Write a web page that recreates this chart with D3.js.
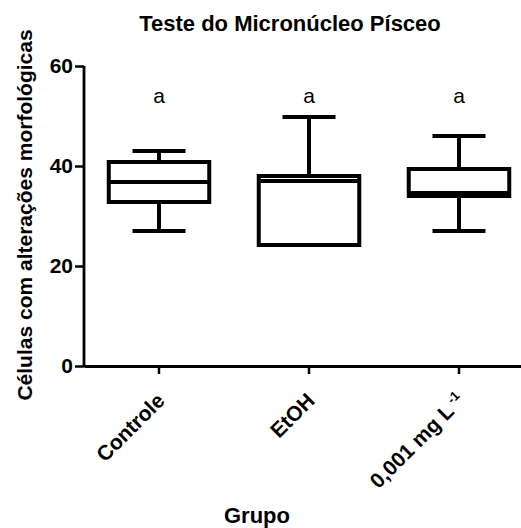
<!DOCTYPE html>
<html>
<head>
<meta charset="utf-8">
<script src="https://cdn.jsdelivr.net/npm/d3@7"></script>
<style>
  body { margin: 0; background: #fff; }
  text { font-family: "Liberation Sans", Arial, sans-serif; }
</style>
</head>
<body>
<div id="chart"></div>
<script>
// data
const groups = ["Controle", "EtOH", "0,001 mg L-1"];
const whiskerLow = [27, 24.2, 27];
const q1 = [32.8, 24.2, 34];
const median = [36.8, 37, 34.6];
const q3 = [40.8, 38, 39.4];
const whiskerHigh = [43, 49.8, 46];
const letters = ["a", "a", "a"];
const yTicks = [0, 20, 40, 60];

const width = 521, height = 528;

const svg = d3.select("#chart").append("svg")
    .attr("width", width)
    .attr("height", height);

const y = d3.scaleLinear().domain([0, 60]).range([366, 66]);
const x = d3.scaleBand().domain(groups).range([84, 534]).paddingInner(0.33).paddingOuter(0.165);

// title
svg.append("text")
    .attr("x", 290).attr("y", 31)
    .attr("text-anchor", "middle")
    .style("font-weight", "bold").style("font-size", "22px")
    .text("Teste do Micronúcleo Písceo");

// y axis
const yAxis = svg.append("g")
    .attr("transform", "translate(84,0)")
    .call(d3.axisLeft(y).tickValues(yTicks).tickSize(9).tickPadding(2));
yAxis.select(".domain").attr("stroke-width", 2.8).attr("d", "M0,367V66");
yAxis.selectAll(".tick line").attr("stroke-width", 2.5);
yAxis.selectAll(".tick text")
    .style("font-size", "21px").style("font-weight", "bold")
    .attr("fill", "#000");

// x axis
const xAxis = svg.append("g")
    .attr("transform", "translate(0,366)")
    .call(d3.axisBottom(x).tickSize(8).tickSizeOuter(0).tickFormat(() => ""));
xAxis.select(".domain").attr("stroke-width", 2.8);
xAxis.selectAll(".tick line").attr("stroke-width", 2.5);

// rotated category labels
groups.forEach((g, i) => {
  const cx = x(g) + x.bandwidth() / 2;
  const t = svg.append("text")
      .attr("transform", `translate(${cx + 7},${402}) rotate(-45)`)
      .attr("text-anchor", "end")
      .style("font-size", "21px").style("font-weight", "bold");
  if (i === 2) {
    t.text("0,001 mg L");
    t.append("tspan").attr("dy", -8).style("font-size", "13px").text(" -1");
  } else {
    t.text(g);
  }
});

svg.append("text")
    .attr("x", 257).attr("y", 523)
    .attr("text-anchor", "middle")
    .style("font-weight", "bold").style("font-size", "22px")
    .text("Grupo");

svg.append("text")
    .attr("transform", "translate(32,215) rotate(-90)")
    .attr("text-anchor", "middle")
    .style("font-weight", "bold").style("font-size", "21px")
    .text("Células com alterações morfológicas");

// boxes
const bw = x.bandwidth();
const capW = 53;
const boxes = svg.append("g");
groups.forEach((g, i) => {
  const x0 = x(g), cx = x0 + bw / 2;
  const gb = boxes.append("g").attr("stroke", "#000").attr("stroke-width", 4).attr("fill", "none");
  gb.append("line").attr("x1", cx).attr("x2", cx).attr("y1", y(whiskerLow[i])).attr("y2", y(q1[i]));
  gb.append("line").attr("x1", cx).attr("x2", cx).attr("y1", y(q3[i])).attr("y2", y(whiskerHigh[i]));
  gb.append("line").attr("x1", cx - capW / 2).attr("x2", cx + capW / 2).attr("y1", y(whiskerLow[i])).attr("y2", y(whiskerLow[i]));
  gb.append("line").attr("x1", cx - capW / 2).attr("x2", cx + capW / 2).attr("y1", y(whiskerHigh[i])).attr("y2", y(whiskerHigh[i]));
  gb.append("rect").attr("x", x0).attr("width", bw)
      .attr("y", y(q3[i])).attr("height", y(q1[i]) - y(q3[i]));
  gb.append("line").attr("x1", x0).attr("x2", x0 + bw).attr("y1", y(median[i])).attr("y2", y(median[i]));
  svg.append("text").attr("x", cx).attr("y", 103)
      .attr("text-anchor", "middle").style("font-size", "21px")
      .text(letters[i]);
});
</script>
</body>
</html>
